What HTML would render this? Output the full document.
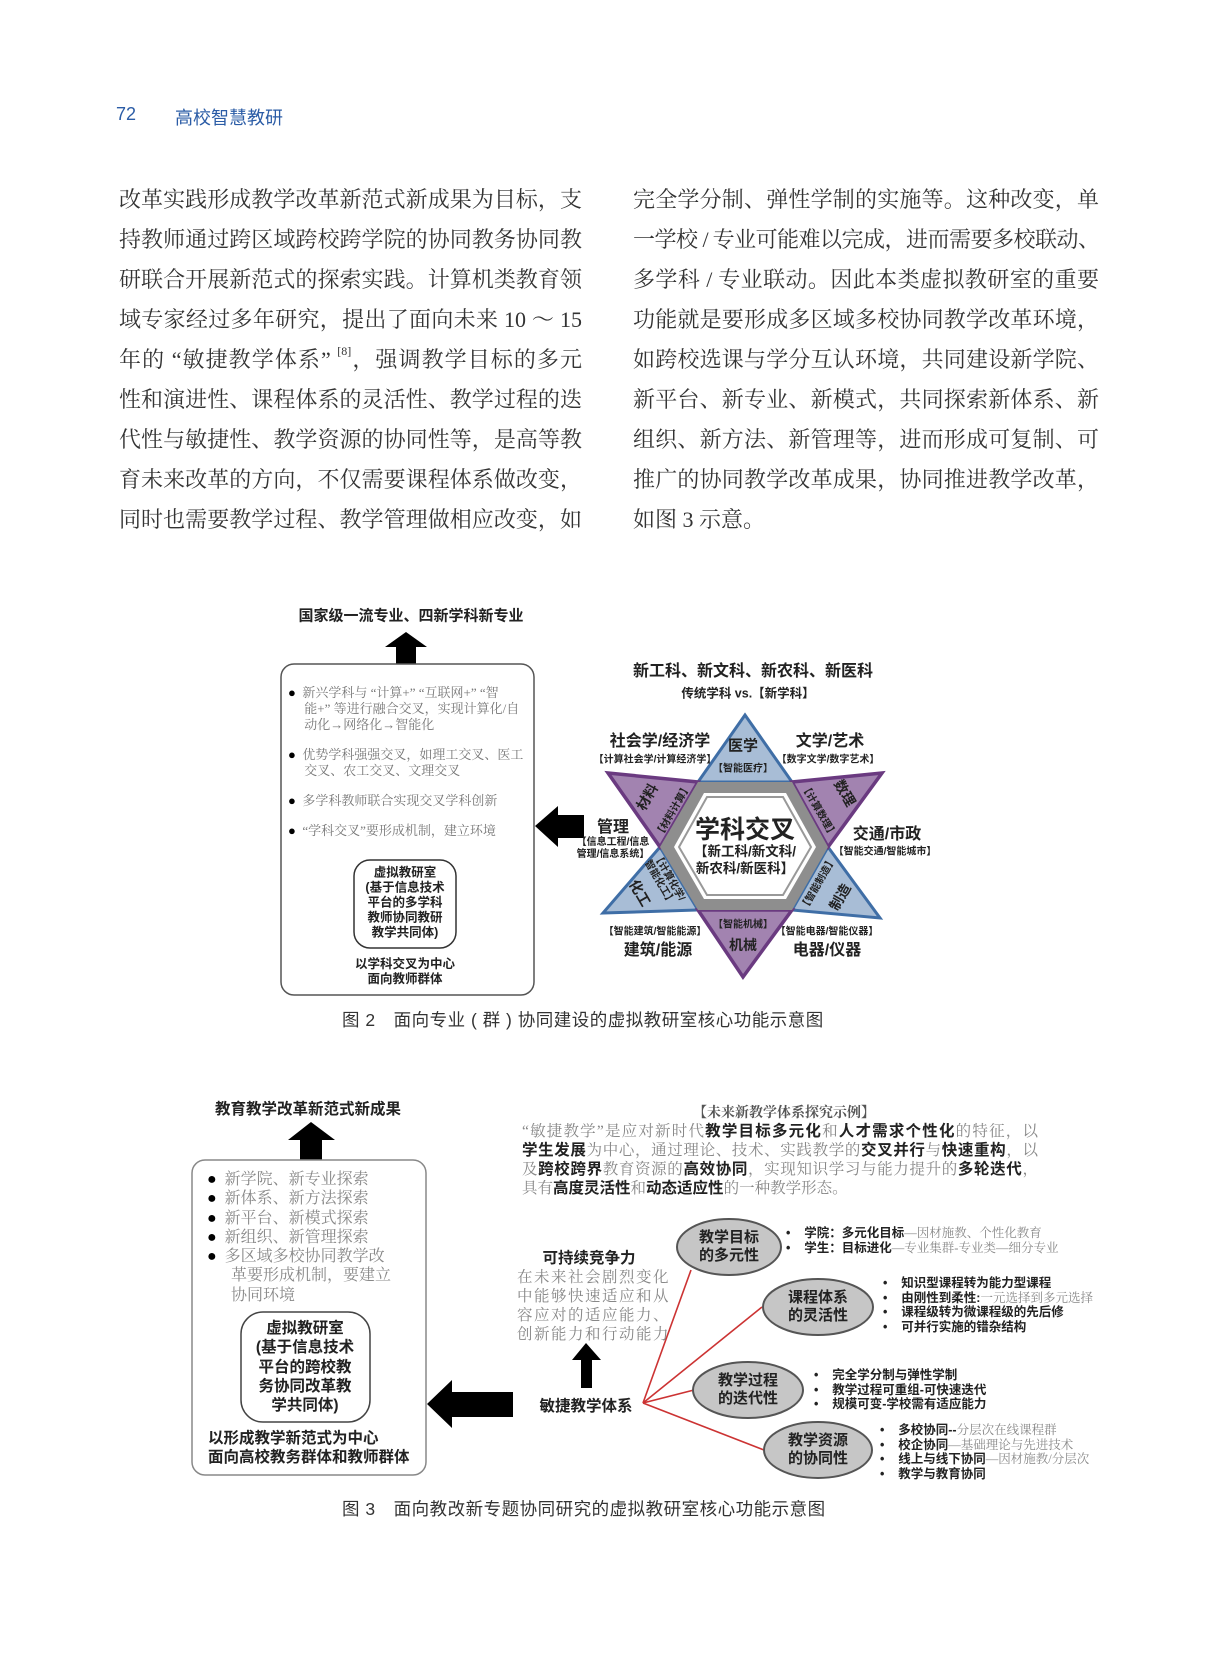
<!DOCTYPE html>
<html><head><meta charset="utf-8">
<style>
*{margin:0;padding:0;box-sizing:border-box}
body{width:1211px;height:1654px;background:#fff;position:relative;overflow:hidden;font-family:"Liberation Sans","Noto Sans CJK SC",sans-serif;color:#222}
.a{position:absolute;white-space:nowrap}
.c{position:absolute;white-space:nowrap;transform:translate(-50%,-50%)}
.ln{position:absolute;font-family:"Liberation Serif","Noto Serif CJK SC",serif;font-size:22px;color:#333;text-align:justify;text-align-last:justify;height:30px;line-height:30px;white-space:nowrap}
.b{font-weight:bold}
.g{color:#777}
.sf{font-family:"Liberation Serif","Noto Serif CJK SC",serif}
.s10{font-size:10px;font-weight:bold}
.s16{font-size:16px;font-weight:bold}
.p{position:absolute;left:522px;width:516px;font-family:"Liberation Serif","Noto Serif CJK SC",serif;font-size:15.5px;color:#888;text-align:justify;text-align-last:justify;line-height:19px;height:19px}
.p b{color:#222;font-family:"Liberation Sans","Noto Sans CJK SC",sans-serif}
.bl{position:absolute;font-size:12.5px;line-height:14.5px;white-space:nowrap;color:#222;font-weight:bold}
.bl i{font-style:normal;font-weight:normal;color:#888;font-family:"Liberation Serif","Noto Serif CJK SC",serif}
.k{color:#000}
</style></head><body>

<div class="a" style="left:116px;top:104px;font-size:18px;color:#2b5ca6">72</div>
<div class="a" style="left:175px;top:104px;font-size:18px;color:#2b5ca6">高校智慧教研</div>

<div class="ln" style="left:119px;top:185px;width:463px">改革实践形成教学改革新范式新成果为目标，支</div>
<div class="ln" style="left:119px;top:225px;width:463px">持教师通过跨区域跨校跨学院的协同教务协同教</div>
<div class="ln" style="left:119px;top:265px;width:463px">研联合开展新范式的探索实践。计算机类教育领</div>
<div class="ln" style="left:119px;top:305px;width:463px">域专家经过多年研究，提出了面向未来 10 ～ 15</div>
<div class="ln" style="left:119px;top:345px;width:463px">年的 “敏捷教学体系” <span style="font-size:12px;vertical-align:top;line-height:12px">[8]</span>，强调教学目标的多元</div>
<div class="ln" style="left:119px;top:385px;width:463px">性和演进性、课程体系的灵活性、教学过程的迭</div>
<div class="ln" style="left:119px;top:425px;width:463px">代性与敏捷性、教学资源的协同性等，是高等教</div>
<div class="ln" style="left:119px;top:465px;width:463px">育未来改革的方向，不仅需要课程体系做改变，</div>
<div class="ln" style="left:119px;top:505px;width:463px">同时也需要教学过程、教学管理做相应改变，如</div>

<div class="ln" style="left:633px;top:185px;width:466px">完全学分制、弹性学制的实施等。这种改变，单</div>
<div class="ln" style="left:633px;top:225px;width:466px;letter-spacing:-1px">一学校 / 专业可能难以完成，进而需要多校联动、</div>
<div class="ln" style="left:633px;top:265px;width:466px">多学科 / 专业联动。因此本类虚拟教研室的重要</div>
<div class="ln" style="left:633px;top:305px;width:466px">功能就是要形成多区域多校协同教学改革环境，</div>
<div class="ln" style="left:633px;top:345px;width:466px">如跨校选课与学分互认环境，共同建设新学院、</div>
<div class="ln" style="left:633px;top:385px;width:466px">新平台、新专业、新模式，共同探索新体系、新</div>
<div class="ln" style="left:633px;top:425px;width:466px">组织、新方法、新管理等，进而形成可复制、可</div>
<div class="ln" style="left:633px;top:465px;width:466px">推广的协同教学改革成果，协同推进教学改革，</div>
<div class="ln" style="left:633px;top:505px;text-align-last:auto">如图 3 示意。</div>

<svg class="a" style="left:0;top:0" width="1211" height="1654">
 <polygon points="406,632 427,647 416,647 416,664 396,664 396,647 385,647" fill="#000"/>
 <rect x="281" y="664" width="253" height="331" rx="13" fill="#fff" stroke="#555" stroke-width="1.5"/>
 <rect x="354" y="860" width="102" height="88" rx="16" fill="#fff" stroke="#333" stroke-width="1.5"/>
 <polygon points="535,826 558,806 558,815 584,815 584,838 558,838 558,847" fill="#000"/>
 <polygon points="745,715 698,782 792,782" fill="#a8bdd6" stroke="#3f6ea6" stroke-width="3"/>
 <polygon points="828,847 792,910 880,918" fill="#a8bdd6" stroke="#3f6ea6" stroke-width="3"/>
 <polygon points="698,910 660,847 603,913" fill="#a8bdd6" stroke="#3f6ea6" stroke-width="3"/>
 <polygon points="792,782 828,847 882,773" fill="#a283b0" stroke="#6a3a80" stroke-width="3.5"/>
 <polygon points="792,910 698,910 743,977" fill="#a283b0" stroke="#6a3a80" stroke-width="3.5"/>
 <polygon points="660,847 698,782 608,773" fill="#a283b0" stroke="#6a3a80" stroke-width="3.5"/>
 <polygon points="698,782 792,782 828,847 792,910 698,910 660,847" fill="#8e8e8e"/>
 <polygon points="704,793 786,793 816,847 786,899 704,899 674,847" fill="#fff"/>
 <polygon points="707,797 783,797 811,847 783,895 707,895 679,847" fill="#fff" stroke="#999" stroke-width="2"/>
 <polygon points="311,1122 335,1140 322,1140 322,1160 300,1160 300,1140 288,1140" fill="#000"/>
 <rect x="192" y="1160" width="234" height="315" rx="13" fill="#fff" stroke="#888" stroke-width="1.5"/>
 <rect x="241" y="1312" width="129" height="110" rx="22" fill="#fff" stroke="#444" stroke-width="1.5"/>
 <polygon points="427,1404 452,1380 452,1392 513,1392 513,1417 452,1417 452,1428" fill="#000"/>
 <polygon points="586,1343 601,1360 592,1360 592,1388 581,1388 581,1360 572,1360" fill="#000"/>
 <g stroke="#cc3333" stroke-width="1.6" fill="none">
  <line x1="643" y1="1403" x2="691" y2="1270"/>
  <line x1="643" y1="1403" x2="762" y2="1307"/>
  <line x1="643" y1="1403" x2="694" y2="1390"/>
  <line x1="643" y1="1403" x2="764" y2="1450"/>
 </g>
 <g fill="#c6c6c6" stroke="#555" stroke-width="2">
  <ellipse cx="729" cy="1247" rx="52" ry="28"/>
  <ellipse cx="818" cy="1307" rx="55" ry="28"/>
  <ellipse cx="748" cy="1390" rx="55" ry="28"/>
  <ellipse cx="818" cy="1450" rx="54" ry="28"/>
 </g>
</svg>

<div class="c b" style="left:411px;top:615px;font-size:15px">国家级一流专业、四新学科新专业</div>
<div class="a g sf" style="left:288px;top:685px;font-size:13px;line-height:16px"><span class="k">●</span>&nbsp; 新兴学科与 “计算+” “互联网+” “智<br>&nbsp;&nbsp;&nbsp;&nbsp;&nbsp;能+” 等进行融合交叉，实现计算化/自<br>&nbsp;&nbsp;&nbsp;&nbsp;&nbsp;动化→网络化→智能化</div>
<div class="a g sf" style="left:288px;top:747px;font-size:13px;line-height:16px"><span class="k">●</span>&nbsp; 优势学科强强交叉，如理工交叉、医工<br>&nbsp;&nbsp;&nbsp;&nbsp;&nbsp;交叉、农工交叉、文理交叉</div>
<div class="a g sf" style="left:288px;top:793px;font-size:13px;line-height:16px"><span class="k">●</span>&nbsp; 多学科教师联合实现交叉学科创新</div>
<div class="a g sf" style="left:288px;top:823px;font-size:13px;line-height:16px"><span class="k">●</span>&nbsp; “学科交叉”要形成机制，建立环境</div>
<div class="c b" style="left:405px;top:903px;font-size:12.5px;line-height:15px;text-align:center">虚拟教研室<br>(基于信息技术<br>平台的多学科<br>教师协同教研<br>教学共同体)</div>
<div class="c b" style="left:405px;top:972px;font-size:12.5px;line-height:15px;text-align:center">以学科交叉为中心<br>面向教师群体</div>

<div class="c b" style="left:753px;top:669px;font-size:16px">新工科、新文科、新农科、新医科</div>
<div class="c b" style="left:748px;top:692px;font-size:12.5px">传统学科 vs.【新学科】</div>
<div class="c s16" style="left:660px;top:739px">社会学/经济学</div>
<div class="c s10" style="left:655px;top:758px">【计算社会学/计算经济学】</div>
<div class="c b" style="left:743px;top:745px;font-size:15px">医学</div>
<div class="c s10" style="left:743px;top:767px">【智能医疗】</div>
<div class="c s16" style="left:830px;top:739px">文学/艺术</div>
<div class="c s10" style="left:828px;top:758px">【数字文学/数字艺术】</div>
<div class="c b" style="left:845px;top:793px;font-size:14px;transform:translate(-50%,-50%) rotate(60deg)">数理</div>
<div class="c s10" style="left:820px;top:810px;transform:translate(-50%,-50%) rotate(60deg)">【计算数理】</div>
<div class="c b" style="left:647px;top:797px;font-size:14px;transform:translate(-50%,-50%) rotate(-60deg)">材料</div>
<div class="c s10" style="left:672px;top:810px;transform:translate(-50%,-50%) rotate(-60deg)">【材料计算】</div>
<div class="c b" style="left:745px;top:828px;font-size:25px">学科交叉</div>
<div class="c b" style="left:745px;top:850px;font-size:13.5px">【新工科/新文科/</div>
<div class="c b" style="left:745px;top:867px;font-size:13.5px">新农科/新医科】</div>
<div class="c s16" style="left:613px;top:825px">管理</div>
<div class="c s10" style="left:613px;top:849px;line-height:12px;text-align:center">【信息工程/信息<br>管理/信息系统】</div>
<div class="c s16" style="left:887px;top:832px">交通/市政</div>
<div class="c s10" style="left:885px;top:850px">【智能交通/智能城市】</div>
<div class="c b" style="left:640px;top:893px;font-size:14px;transform:translate(-50%,-50%) rotate(60deg)">化工</div>
<div class="c s10" style="left:664px;top:880px;line-height:11px;text-align:center;transform:translate(-50%,-50%) rotate(60deg)">【计算化学/<br>智能化工】</div>
<div class="c b" style="left:840px;top:897px;font-size:14px;transform:translate(-50%,-50%) rotate(-60deg)">制造</div>
<div class="c s10" style="left:817px;top:883px;transform:translate(-50%,-50%) rotate(-60deg)">【智能制造】</div>
<div class="c s10" style="left:655px;top:930px">【智能建筑/智能能源】</div>
<div class="c s16" style="left:658px;top:948px">建筑/能源</div>
<div class="c s10" style="left:743px;top:923px">【智能机械】</div>
<div class="c b" style="left:743px;top:945px;font-size:14px">机械</div>
<div class="c s10" style="left:827px;top:930px">【智能电器/智能仪器】</div>
<div class="c s16" style="left:827px;top:948px">电器/仪器</div>

<div class="a" style="left:342px;top:1007px;font-size:17.5px;color:#333;letter-spacing:0.5px">图 2　面向专业 ( 群 ) 协同建设的虚拟教研室核心功能示意图</div>

<div class="c b" style="left:308px;top:1108px;font-size:15.5px">教育教学改革新范式新成果</div>
<div class="a sf" style="left:207px;top:1170px;font-size:16px;line-height:19.3px;color:#888"><span class="k">●</span>&nbsp; 新学院、新专业探索<br><span class="k">●</span>&nbsp; 新体系、新方法探索<br><span class="k">●</span>&nbsp; 新平台、新模式探索<br><span class="k">●</span>&nbsp; 新组织、新管理探索<br><span class="k">●</span>&nbsp; 多区域多校协同教学改<br>&nbsp;&nbsp;&nbsp;&nbsp;&nbsp;&nbsp;革要形成机制，要建立<br>&nbsp;&nbsp;&nbsp;&nbsp;&nbsp;&nbsp;协同环境</div>
<div class="c b" style="left:305px;top:1367px;font-size:15.5px;line-height:19.3px;text-align:center">虚拟教研室<br>(基于信息技术<br>平台的跨校教<br>务协同改革教<br>学共同体)</div>
<div class="a b" style="left:208px;top:1430px;font-size:15.5px;line-height:18.5px">以形成教学新范式为中心<br>面向高校教务群体和教师群体</div>

<div class="c sf b" style="left:784px;top:1112px;font-size:14px;color:#555">【未来新教学体系探究示例】</div>
<div class="p" style="top:1122px">“敏捷教学”是应对新时代<b>教学目标多元化</b>和<b>人才需求个性化</b>的特征，以</div>
<div class="p" style="top:1141px"><b>学生发展</b>为中心，通过理论、技术、实践教学的<b>交叉并行</b>与<b>快速重构</b>，以</div>
<div class="p" style="top:1160px">及<b>跨校跨界</b>教育资源的<b>高效协同</b>，实现知识学习与能力提升的<b>多轮迭代</b>，</div>
<div class="p" style="top:1179px;text-align-last:auto">具有<b>高度灵活性</b>和<b>动态适应性</b>的一种教学形态。</div>

<div class="c b" style="left:589px;top:1257px;font-size:15.5px">可持续竞争力</div>
<div class="a sf" style="left:517px;top:1268px;font-size:15.5px;line-height:19px;color:#888;letter-spacing:1.5px">在未来社会剧烈变化<br>中能够快速适应和从<br>容应对的适应能力、<br>创新能力和行动能力</div>
<div class="c b" style="left:586px;top:1405px;font-size:15.5px">敏捷教学体系</div>

<div class="c b" style="left:729px;top:1247px;font-size:15px;line-height:18px;text-align:center">教学目标<br>的多元性</div>
<div class="c b" style="left:818px;top:1307px;font-size:15px;line-height:18px;text-align:center">课程体系<br>的灵活性</div>
<div class="c b" style="left:748px;top:1390px;font-size:15px;line-height:18px;text-align:center">教学过程<br>的迭代性</div>
<div class="c b" style="left:818px;top:1450px;font-size:15px;line-height:18px;text-align:center">教学资源<br>的协同性</div>

<div class="bl" style="left:786px;top:1226px">•&nbsp;&nbsp;&nbsp; 学院：多元化目标<i>—因材施教、个性化教育</i><br>•&nbsp;&nbsp;&nbsp; 学生：目标进化<i>—专业集群-专业类—细分专业</i></div>
<div class="bl" style="left:883px;top:1276px">•&nbsp;&nbsp;&nbsp; 知识型课程转为能力型课程<br>•&nbsp;&nbsp;&nbsp; 由刚性到柔性:<i>一元选择到多元选择</i><br>•&nbsp;&nbsp;&nbsp; 课程级转为微课程级的先后修<br>•&nbsp;&nbsp;&nbsp; 可并行实施的错杂结构</div>
<div class="bl" style="left:814px;top:1368px">•&nbsp;&nbsp;&nbsp; 完全学分制与弹性学制<br>•&nbsp;&nbsp;&nbsp; 教学过程可重组-可快速迭代<br>•&nbsp;&nbsp;&nbsp; 规模可变-学校需有适应能力</div>
<div class="bl" style="left:880px;top:1423px">•&nbsp;&nbsp;&nbsp; 多校协同--<i>分层次在线课程群</i><br>•&nbsp;&nbsp;&nbsp; 校企协同<i>—基础理论与先进技术</i><br>•&nbsp;&nbsp;&nbsp; 线上与线下协同<i>—因材施教/分层次</i><br>•&nbsp;&nbsp;&nbsp; 教学与教育协同</div>

<div class="a" style="left:342px;top:1496px;font-size:17.5px;color:#333;letter-spacing:0.5px">图 3　面向教改新专题协同研究的虚拟教研室核心功能示意图</div>
</body></html>
